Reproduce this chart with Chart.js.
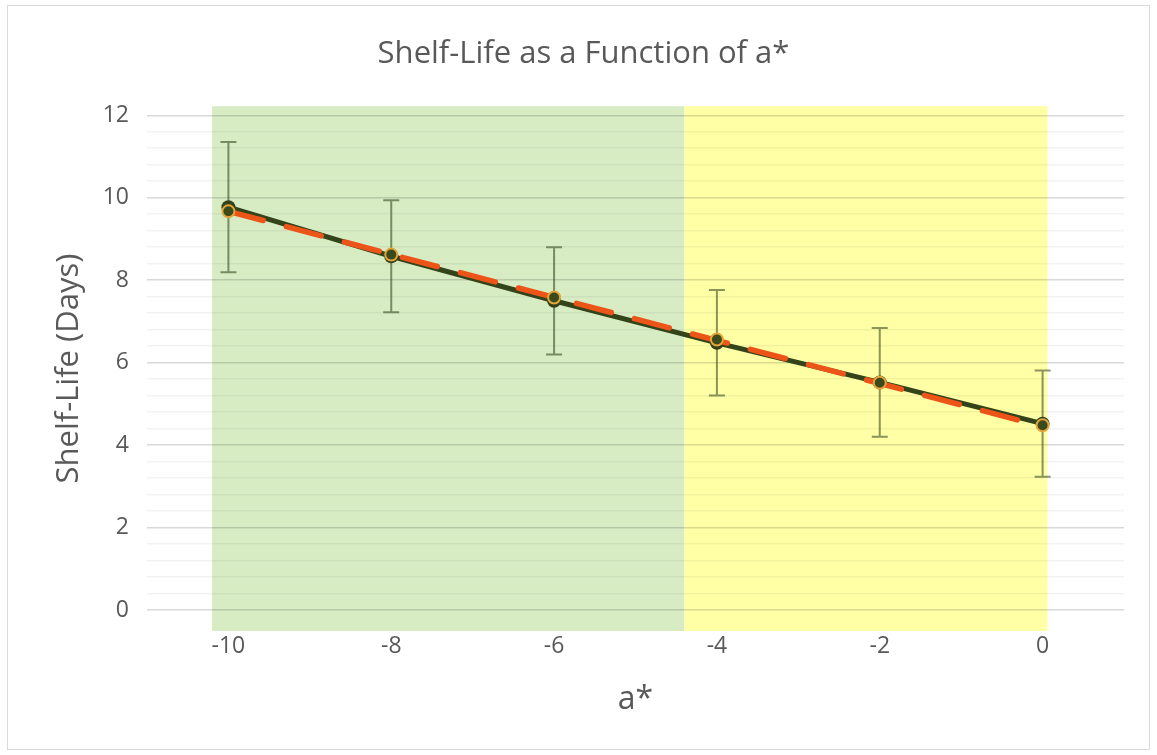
<!DOCTYPE html>
<html><head><meta charset="utf-8">
<script src="https://cdn.jsdelivr.net/npm/chart.js@4.4.1/dist/chart.umd.min.js"></script>
<style>
html,body{margin:0;padding:0;background:#fff;}
#wrap{position:relative;width:1157px;height:755px;}
#frame{position:absolute;left:7px;top:5px;width:1143px;height:745px;border:1px solid #d9d9d9;box-sizing:border-box;pointer-events:none;}
</style></head><body>
<div id="wrap"><canvas id="c" width="1157" height="755"></canvas><div id="frame"></div></div>
<script>
// ---- data ----
const aStar = [-10, -8, -6, -4, -2, 0];
const shelfLife = [9.77, 8.58, 7.50, 6.48, 5.52, 4.52];      // dark line series (centre of error bars)
const shelfLifeErr = [1.58, 1.36, 1.30, 1.28, 1.32, 1.29];   // +/- error
const shelfLifeObs = [9.67, 8.62, 7.58, 6.56, 5.51, 4.48];   // gold-ringed markers
const trendX = [-10, 0];
const trendY = [9.67, 4.45];
const xTickValues = [-10, -8, -6, -4, -2, 0];
const yTickValues = [0, 2, 4, 6, 8, 10, 12];
const yMinorStep = 0.4;
const bandFrom = [-10.2, -4.4];
const bandTo = [-4.4, 0.06];
const bandColors = ['#d8ecc4', '#ffffa6'];

const FONT = '"Open Sans", "Liberation Sans", sans-serif';
const TEXT = '#595959';

const pts = (xs, ys) => xs.map((x, i) => ({x, y: ys[i]}));

const bandPlugin = {
  id: 'bands',
  beforeDraw(chart) {
    const {ctx, chartArea: {top, bottom}, scales: {x}} = chart;
    ctx.save();
    bandFrom.forEach((f, i) => {
      const x0 = x.getPixelForValue(f), x1 = x.getPixelForValue(bandTo[i]);
      ctx.fillStyle = bandColors[i];
      ctx.fillRect(x0, top, x1 - x0, bottom - top);
    });
    ctx.restore();
  }
};

const errorBarPlugin = {
  id: 'errorBars',
  beforeDatasetDraw(chart, args) {
    if (args.index !== 0) return;
    const {ctx, scales: {x, y}} = chart;
    ctx.save();
    ctx.strokeStyle = 'rgba(40,60,20,0.55)';
    ctx.lineWidth = 2;
    aStar.forEach((xv, i) => {
      const px = x.getPixelForValue(xv);
      const yt = y.getPixelForValue(shelfLife[i] + shelfLifeErr[i]);
      const yb = y.getPixelForValue(shelfLife[i] - shelfLifeErr[i]);
      ctx.beginPath();
      ctx.moveTo(px, yt); ctx.lineTo(px, yb);
      ctx.moveTo(px - 8, yt); ctx.lineTo(px + 8, yt);
      ctx.moveTo(px - 8, yb); ctx.lineTo(px + 8, yb);
      ctx.stroke();
    });
    ctx.restore();
  }
};

const isMajor = v => yTickValues.some(t => Math.abs(t - v) < 1e-6);

new Chart(document.getElementById('c'), {
  type: 'scatter',
  data: {
    datasets: [
      {
        label: 'Observed',
        data: pts(aStar, shelfLifeObs),
        showLine: false,
        pointRadius: 6,
        pointBorderWidth: 2,
        pointBackgroundColor: '#3b4a1a',
        pointBorderColor: '#e4a53c'
      },
      {
        label: 'Trend',
        data: pts(trendX, trendY),
        showLine: true,
        borderColor: '#ec5418',
        borderWidth: 5.5,
        borderDash: [36, 24],
        borderCapStyle: 'round',
        pointRadius: 0
      },
      {
        label: 'Shelf-Life',
        data: pts(aStar, shelfLife),
        showLine: true,
        borderColor: '#34441a',
        borderWidth: 5,
        pointRadius: 7,
        pointBorderWidth: 0,
        pointBackgroundColor: '#34441a'
      }
    ]
  },
  options: {
    responsive: false,
    animation: false,
    layout: {padding: {left: 43, right: 33, top: 0, bottom: 0}},
    plugins: {
      legend: {display: false},
      tooltip: {enabled: false},
      title: {
        display: true,
        text: 'Shelf-Life as a Function of a*',
        color: TEXT,
        font: {family: FONT, size: 31, weight: 'normal'},
        padding: {top: 36, bottom: 33}
      }
    },
    scales: {
      x: {
        type: 'linear',
        min: -11, max: 1,
        afterBuildTicks: s => { s.ticks = xTickValues.map(v => ({value: v})); },
        afterFit: s => { s.height = 124; },
        grid: {display: false, drawTicks: false},
        border: {display: false},
        ticks: {color: TEXT, font: {family: FONT, size: 23}, padding: 2, maxRotation: 0, autoSkip: false},
        title: {display: true, text: 'a*', color: TEXT, font: {family: FONT, size: 32}, padding: {top: 0, bottom: 36}}
      },
      y: {
        type: 'linear',
        min: -0.51, max: 12.22,
        afterBuildTicks: s => {
          const t = [];
          const n = Math.round((yTickValues[yTickValues.length - 1] - yTickValues[0]) / yMinorStep);
          for (let i = 0; i <= n; i++) t.push({value: +(yTickValues[0] + i * yMinorStep).toFixed(2)});
          s.ticks = t;
        },
        afterFit: s => { s.width = 104; },
        grid: {
          drawTicks: false,
          lineWidth: 1.5,
          color: c => isMajor(c.tick.value) ? 'rgba(0,0,0,0.15)' : 'rgba(0,0,0,0.05)'
        },
        border: {display: false},
        ticks: {
          color: TEXT, font: {family: FONT, size: 23}, padding: 18, autoSkip: false,
          callback: v => isMajor(v) ? String(Math.round(v)) : ''
        },
        title: {display: true, text: 'Shelf-Life (Days)', color: TEXT, font: {family: FONT, size: 31}, padding: {top: 8, bottom: 0}}
      }
    }
  },
  plugins: [bandPlugin, errorBarPlugin]
});
</script>
</body></html>
